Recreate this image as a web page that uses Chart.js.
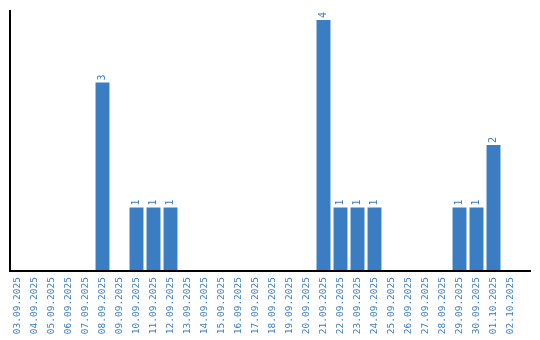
<!DOCTYPE html>
<html lang="en">
<head>
    <meta charset="UTF-8">
    <script src="https://cdn.jsdelivr.net/npm/chart.js"></script>
    <title>Daily counts</title>
    <style>
        body { margin: 0; background: #ffffff; }
        #chart_container { width: 540px; height: 340px; }
    </style>
</head>
<body>
    <div id="chart_container">
        <canvas id="bar_chart_canvas" width="540" height="340"></canvas>
    </div>
    <script>
        // Categories (days) and counts
        const labels = [
            '03.09.2025', '04.09.2025', '05.09.2025', '06.09.2025', '07.09.2025',
            '08.09.2025', '09.09.2025', '10.09.2025', '11.09.2025', '12.09.2025',
            '13.09.2025', '14.09.2025', '15.09.2025', '16.09.2025', '17.09.2025',
            '18.09.2025', '19.09.2025', '20.09.2025', '21.09.2025', '22.09.2025',
            '23.09.2025', '24.09.2025', '25.09.2025', '26.09.2025', '27.09.2025',
            '28.09.2025', '29.09.2025', '30.09.2025', '01.10.2025', '02.10.2025'
        ];
        const counts = [
            0, 0, 0, 0, 0,
            3, 0, 1, 1, 1,
            0, 0, 0, 0, 0,
            0, 0, 0, 4, 1,
            1, 1, 0, 0, 0,
            0, 1, 1, 2, 0
        ];

        const BLUE = '#3a7dc2';
        const TICK_FONT = { family: "'DejaVu Sans Mono', monospace", size: 9.5 };
        const VALUE_FONT = { family: "'DejaVu Sans Mono', monospace", size: 10 };

        // Draw the two axis lines (x line runs a bit past the plot)
        const axisLines = {
            id: 'axisLines',
            afterDraw(chart) {
                const { ctx, chartArea } = chart;
                ctx.save();
                ctx.strokeStyle = '#000000';
                ctx.lineWidth = 2;
                ctx.beginPath();
                ctx.moveTo(chartArea.left + 1, chartArea.top);
                ctx.lineTo(chartArea.left + 1, chartArea.bottom + 1);
                ctx.lineTo(chartArea.right + 12, chartArea.bottom + 1);
                ctx.stroke();
                ctx.restore();
            }
        };

        // Rotated value labels above each non-zero bar
        const valueLabels = {
            id: 'valueLabels',
            afterDatasetsDraw(chart) {
                const { ctx } = chart;
                const meta = chart.getDatasetMeta(0);
                ctx.save();
                ctx.fillStyle = BLUE;
                ctx.font = VALUE_FONT.size + 'px ' + VALUE_FONT.family;
                ctx.textAlign = 'left';
                ctx.textBaseline = 'middle';
                meta.data.forEach(function (bar, i) {
                    const v = counts[i];
                    if (!v) return;
                    ctx.save();
                    ctx.translate(bar.x, bar.y - 2);
                    ctx.rotate(-Math.PI / 2);
                    ctx.fillText(String(v), 0, 0);
                    ctx.restore();
                });
                ctx.restore();
            }
        };

        const ctx = document.getElementById('bar_chart_canvas').getContext('2d');
        const myChart = new Chart(ctx, {
            type: 'bar',
            data: {
                labels: labels,
                datasets: [{
                    data: counts,
                    backgroundColor: BLUE,
                    borderWidth: 0,
                    categoryPercentage: 1.0,
                    barPercentage: 0.82
                }]
            },
            options: {
                responsive: false,
                animation: false,
                layout: { padding: { left: 9, right: 21, top: 10, bottom: 0 } },
                plugins: {
                    legend: { display: false },
                    tooltip: { enabled: false }
                },
                scales: {
                    x: {
                        grid: { display: false, drawTicks: false },
                        border: { display: false },
                        afterFit: function (scale) { scale.height = 70; },
                        ticks: {
                            color: BLUE,
                            font: TICK_FONT,
                            autoSkip: false,
                            minRotation: 90,
                            maxRotation: 90,
                            padding: 7
                        }
                    },
                    y: {
                        display: false,
                        min: 0,
                        max: 4.16
                    }
                }
            },
            plugins: [axisLines, valueLabels]
        });
    </script>
</body>
</html>
